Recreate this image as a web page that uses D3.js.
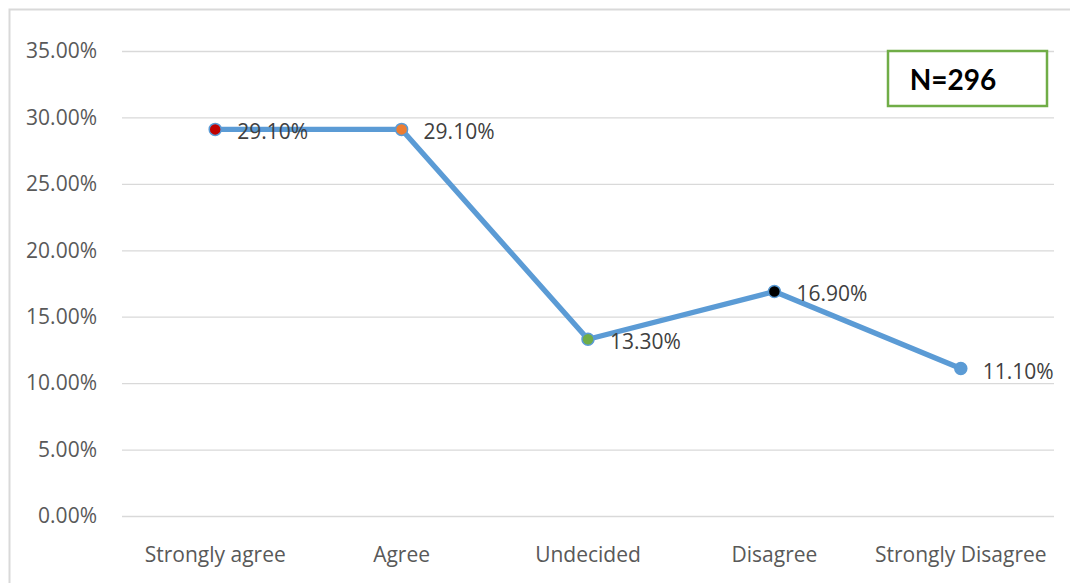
<!DOCTYPE html>
<html><head><meta charset="utf-8">
<script src="https://cdn.jsdelivr.net/npm/d3@7"></script>
<style>
html,body{margin:0;padding:0;background:#fff;}
svg{display:block;}
text{font-family:"Open Sans","Noto Sans",sans-serif;}
</style></head>
<body>
<svg id="chart" width="1070" height="583"></svg>
<script>
const categories = ["Strongly agree","Agree","Undecided","Disagree","Strongly Disagree"];
const values = [29.1, 29.1, 13.3, 16.9, 11.1];
const markerColors = ["#C00000","#ED7D31","#70AD47","#000000","#5B9BD5"];
const yTicks = [0,5,10,15,20,25,30,35];
const annotation = "N=296";

const svg = d3.select("#chart");
const W = 1070, H = 583;
const m = {left:122, right:16, top:51, bottom:67};

// outer chart border
svg.append("path").attr("d", `M9.5,${H} L9.5,9.5 L${W},9.5`)
  .attr("fill","none").attr("stroke","#d9d9d9").attr("stroke-width",2);

const x = d3.scaleBand().domain(categories).range([m.left, W-m.right]);
const y = d3.scaleLinear().domain([0,35]).range([H-m.bottom, m.top]);

const fs = "21px";
// gridlines
const yAxis = d3.axisLeft(y).tickValues(yTicks).tickSize(-(W-m.right-m.left)).tickPadding(25)
  .tickFormat(d => d.toFixed(2) + "%");
const gy = svg.append("g").attr("transform",`translate(${m.left},0)`).call(yAxis);
gy.select(".domain").remove();
gy.selectAll(".tick line").attr("stroke","#d9d9d9").attr("stroke-width",1.3);
gy.selectAll(".tick text").attr("fill","#595959").attr("font-size",fs);

const xAxis = d3.axisBottom(x).tickSize(0).tickPadding(31);
const gx = svg.append("g").attr("transform",`translate(0,${H-m.bottom})`).call(xAxis);
gx.select(".domain").remove();
gx.selectAll(".tick text").attr("fill","#595959").attr("font-size",fs);

const cx = d => x(d) + x.bandwidth()/2;
const line = d3.line().x((d,i)=>cx(categories[i])).y(d=>y(d));
svg.append("path").datum(values).attr("d", line)
  .attr("fill","none").attr("stroke","#5B9BD5").attr("stroke-width",5.3).attr("stroke-linejoin","round");

svg.selectAll("circle.pt").data(values).join("circle").attr("class","pt")
  .attr("cx",(d,i)=>cx(categories[i])).attr("cy",d=>y(d)).attr("r",6)
  .attr("fill",(d,i)=>markerColors[i]).attr("stroke","#5B9BD5").attr("stroke-width",1.5);

svg.selectAll("text.lbl").data(values).join("text").attr("class","lbl")
  .attr("x",(d,i)=>cx(categories[i])+22).attr("y",d=>y(d)+10)
  .attr("fill","#404040").attr("font-size",fs)
  .text(d => d.toFixed(2) + "%");

// N box
svg.append("rect").attr("x",888).attr("y",51).attr("width",159).attr("height",55)
  .attr("fill","#fff").attr("stroke","#70AD47").attr("stroke-width",2.5);
svg.append("text").attr("x",953).attr("y",90).attr("text-anchor","middle")
  .attr("font-size","28px").attr("font-weight","bold").attr("fill","#000")
  .style("font-family","Lato, 'Open Sans', sans-serif").text(annotation);
</script>
</body></html>
